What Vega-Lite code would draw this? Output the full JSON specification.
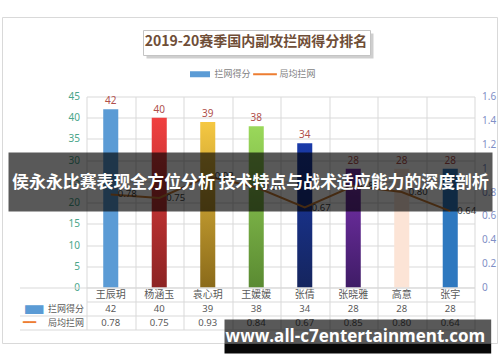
{
  "$schema": "https://vega.github.io/schema/vega-lite/v6.json",
  "background": "white",
  "padding": {"left": 1.5, "top": 16.5, "right": 2, "bottom": 4},
  "title": {"text": "2019-20赛季国内副攻拦网得分排名", "font": "Noto Sans CJK SC", "fontSize": 14, "fontWeight": "bold", "color": "#6f4e37", "anchor": "middle", "offset": -32, "dx": 6, "zindex": 1},
  "datasets": {
    "players": [
      {"name": "王辰玥", "score": 42, "avg": 0.78},
      {"name": "杨涵玉", "score": 40, "avg": 0.75},
      {"name": "袁心玥", "score": 39, "avg": 0.93},
      {"name": "王媛媛", "score": 38, "avg": 0.84},
      {"name": "张倩", "score": 34, "avg": 0.67},
      {"name": "张晓雅", "score": 28, "avg": 0.85},
      {"name": "高意", "score": 28, "avg": 0.80},
      {"name": "张宇", "score": 28, "avg": 0.64}
    ],
    "banner": [{"label": "侯永永比赛表现全方位分析 技术特点与战术适应能力的深度剖析"}],
    "site": [{"label": "www.all-c7entertainment.com"}],
    "series": [{"series": "拦网得分"}, {"series": "局均拦网"}]
  },
  "spacing": 0,
  "bounds": "flush",
  "vconcat": [
    {
      "width": 388,
      "height": 191,
      "layer": [
        {
          "data": {"name": "banner"},
          "layer": [
            {"mark": {"type": "rect", "filled": false, "stroke": "#d9d9d9", "strokeWidth": 1},
              "encoding": {
                "x": {"datum": -0.2165, "type": "quantitative", "scale": {"domain": [0, 1], "nice": false, "zero": false}, "axis": null},
                "x2": {"datum": 1.0593},
                "y": {"datum": 1.4136, "type": "quantitative", "scale": {"domain": [0, 1], "nice": false, "zero": false}, "axis": null},
                "y2": {"datum": -0.2932}
              }},
            {"mark": {"type": "rect", "fill": "#cfcfcf"},
              "encoding": {
                "x": {"datum": 0.1546, "type": "quantitative"},
                "x2": {"datum": 0.7397},
                "y": {"datum": 1.3298, "type": "quantitative"},
                "y2": {"datum": 1.1990}
              }},
            {"mark": {"type": "rect", "fill": "#ffffff", "stroke": "#c4c4c4", "strokeWidth": 1},
              "encoding": {
                "x": {"datum": 0.1469, "type": "quantitative"},
                "x2": {"datum": 0.732},
                "y": {"datum": 1.3455, "type": "quantitative"},
                "y2": {"datum": 1.2147}
              }}
          ]
        },
        {
          "data": {"name": "players"},
          "encoding": {
            "x": {"field": "name", "type": "nominal", "sort": null, "scale": {"paddingInner": 0, "paddingOuter": 0},
              "axis": {"title": null, "labels": false, "ticks": false, "domain": false, "grid": true, "tickBand": "extent", "gridColor": "#d9d9d9"}},
            "y": {"field": "score", "type": "quantitative", "scale": {"domain": [0, 45], "nice": false},
              "axis": {"orient": "left", "title": null, "values": [0, 5, 10, 15, 20, 25, 30, 35, 40, 45], "ticks": false, "domain": false, "grid": true, "gridColor": "#d9d9d9", "labelColor": "#4aa68a", "labelFontSize": 10, "labelPadding": 7, "labelFont": "Noto Sans"}}
          },
          "layer": [
            {"mark": {"type": "bar", "width": {"band": 0.31}},
              "encoding": {"fill": {
                "condition": [
                  {"test": "datum.name == '杨涵玉'", "value": {"gradient": "linear", "x1": 0, "y1": 0, "x2": 0, "y2": 1, "stops": [{"offset": 0, "color": "#f04040"}, {"offset": 1, "color": "#8c2424"}]}},
                  {"test": "datum.name == '袁心玥'", "value": {"gradient": "linear", "x1": 0, "y1": 0, "x2": 0, "y2": 1, "stops": [{"offset": 0, "color": "#f5c842"}, {"offset": 1, "color": "#8a6a1a"}]}},
                  {"test": "datum.name == '王媛媛'", "value": {"gradient": "linear", "x1": 0, "y1": 0, "x2": 0, "y2": 1, "stops": [{"offset": 0, "color": "#9ad85a"}, {"offset": 1, "color": "#5a8a32"}]}},
                  {"test": "datum.name == '张倩'", "value": {"gradient": "linear", "x1": 0, "y1": 0, "x2": 0, "y2": 1, "stops": [{"offset": 0, "color": "#1a3aa8"}, {"offset": 1, "color": "#15255e"}]}},
                  {"test": "datum.name == '张晓雅'", "value": {"gradient": "linear", "x1": 0, "y1": 0, "x2": 0, "y2": 1, "stops": [{"offset": 0, "color": "#7a32b0"}, {"offset": 1, "color": "#3f1c66"}]}}
                ],
                "field": "name", "type": "nominal", "sort": null, "legend": null,
                "scale": {"domain": ["王辰玥", "杨涵玉", "袁心玥", "王媛媛", "张倩", "张晓雅", "高意", "张宇"],
                  "range": ["#5b9bd5", "#d23636", "#d6aa30", "#82bd48", "#1c3a94", "#6a2f9a", "#fce4d6", "#2e78bf"]}}}},
            {"mark": {"type": "text", "dy": -8, "fontSize": 10, "color": "#b0504c", "font": "Noto Sans"},
              "encoding": {"text": {"field": "score"}}}
          ]
        },
        {
          "data": {"name": "players"},
          "encoding": {
            "x": {"field": "name", "type": "nominal", "sort": null, "scale": {"paddingInner": 0, "paddingOuter": 0}, "axis": null},
            "y": {"field": "avg", "type": "quantitative", "scale": {"domain": [0, 1.6], "nice": false},
              "axis": {"orient": "right", "title": null, "values": [0, 0.2, 0.4, 0.6, 0.8, 1, 1.2, 1.4, 1.6], "format": "~g", "ticks": false, "domain": false, "grid": false, "labelColor": "#7f8fc6", "labelFontSize": 10, "labelPadding": 7, "labelFont": "Noto Sans"}}
          },
          "layer": [
            {"mark": {"type": "line", "color": "#c47a35", "strokeWidth": 2}},
            {"mark": {"type": "text", "align": "left", "dx": 7, "fontSize": 9.5, "color": "#3f3f3f", "font": "Noto Sans"},
              "encoding": {"text": {"field": "avg", "format": ".2f"}}}
          ]
        },
        {
          "layer": [
            {"data": {"name": "banner"},
              "mark": {"type": "rect", "fill": "#000000", "opacity": 0.65},
              "encoding": {
                "x": {"datum": -0.201, "type": "quantitative", "scale": {"domain": [0, 1], "nice": false, "zero": false}, "axis": null},
                "x2": {"datum": 1.0464},
                "y": {"datum": 0.7068, "type": "quantitative", "scale": {"domain": [0, 1], "nice": false, "zero": false}, "axis": null},
                "y2": {"datum": 0.3979}
              }},
            {"data": {"name": "banner"},
              "mark": {"type": "text", "color": "white", "fontSize": 16.9, "fontWeight": "bold", "font": "Noto Sans CJK SC", "baseline": "middle", "align": "center"},
              "encoding": {
                "x": {"datum": 0.4227, "type": "quantitative"},
                "y": {"datum": 0.5497, "type": "quantitative"},
                "text": {"field": "label"}
              }},
            {"data": {"name": "series"},
              "mark": {"type": "point", "filled": true, "opacity": 0},
              "encoding": {
                "x": {"datum": 0.5, "type": "quantitative"},
                "y": {"datum": 0.5, "type": "quantitative"},
                "color": {"field": "series", "type": "nominal", "sort": null,
                  "scale": {"domain": ["拦网得分", "局均拦网"], "range": ["#5b9bd5", "#ed7d31"]},
                  "legend": {"title": null, "orient": "none", "direction": "horizontal", "legendX": 101, "legendY": -35, "symbolSize": 625, "symbolOpacity": 1, "symbolStrokeWidth": 0, "labelFontSize": 9, "labelColor": "#7f7f7f", "labelOffset": 2, "columnPadding": 1, "labelFont": "Noto Sans CJK SC"}},
                "shape": {"field": "series", "type": "nominal", "sort": null,
                  "scale": {"domain": ["拦网得分", "局均拦网"], "range": ["M-0.8,-0.24H0.8V0.24H-0.8Z", "M-0.95,-0.08H0.95V0.08H-0.95Z"]},
                  "legend": {"title": null, "orient": "none", "direction": "horizontal", "legendX": 101, "legendY": -35, "symbolSize": 625, "symbolOpacity": 1, "symbolStrokeWidth": 0, "labelFontSize": 9, "labelColor": "#7f7f7f", "labelOffset": 2, "columnPadding": 1, "labelFont": "Noto Sans CJK SC"}}
              }}
          ]
        }
      ],
      "resolve": {"scale": {"x": "independent", "y": "independent"}}
    },
    {
      "width": 388,
      "height": 42,
      "layer": [
        {
          "data": {"name": "players"},
          "encoding": {
            "x": {"field": "name", "type": "nominal", "sort": null, "scale": {"paddingInner": 0, "paddingOuter": 0},
              "axis": {"title": null, "labels": false, "ticks": false, "domain": false, "grid": true, "tickBand": "extent", "gridColor": "#d9d9d9"}}
          },
          "layer": [
            {"mark": {"type": "text", "fontSize": 10, "color": "#595959"},
              "encoding": {
                "y": {"datum": "name", "type": "nominal", "scale": {"type": "band", "domain": ["name", "拦网得分", "局均拦网"], "paddingInner": 0, "paddingOuter": 0},
                  "axis": {"orient": "left", "title": null, "domain": false, "grid": true, "gridColor": "#d9d9d9", "tickBand": "extent", "tickSize": 67, "tickColor": "#d9d9d9",
                    "tickOpacity": {"condition": {"test": "datum.value == 'name'", "value": 0}, "value": 1},
                    "labelExpr": "datum.value == 'name' ? '' : datum.value", "labelPadding": -64, "labelFontSize": 9, "labelColor": "#595959"}},
                "text": {"field": "name"}
              }},
            {"mark": {"type": "text", "fontSize": 9.5, "color": "#595959", "font": "Noto Sans"},
              "encoding": {"y": {"datum": "拦网得分", "type": "nominal"}, "text": {"field": "score"}}},
            {"mark": {"type": "text", "fontSize": 9.5, "color": "#595959", "font": "Noto Sans"},
              "encoding": {"y": {"datum": "局均拦网", "type": "nominal"}, "text": {"field": "avg", "format": ".2f"}}}
          ]
        },
        {
          "data": {"name": "series"},
          "mark": {"type": "text", "text": ""},
          "encoding": {
            "y": {"field": "series", "type": "nominal", "scale": {"type": "band", "domain": ["name", "拦网得分", "局均拦网"], "paddingInner": 0, "paddingOuter": 0},
              "axis": {"orient": "left", "offset": 67, "title": null, "ticks": false, "domain": false, "grid": false,
                "labelExpr": "datum.value == '拦网得分' ? '▬' : (datum.value == '局均拦网' ? '━━' : '')",
                "labelColor": {"condition": {"test": "datum.value == '拦网得分'", "value": "#5b9bd5"}, "value": "#ed7d31"},
                "labelFontSize": {"condition": {"test": "datum.value == '拦网得分'", "value": 24}, "value": 11},
                "labelFont": "DejaVu Sans", "labelAlign": "left", "labelPadding": -3}}
          }
        },
        {
          "data": {"name": "site"},
          "layer": [
            {"mark": {"type": "rect", "fill": "#000000", "opacity": 0.65},
              "encoding": {
                "x": {"datum": 0.3557, "type": "quantitative", "scale": {"domain": [0, 1], "nice": false, "zero": false}, "axis": null},
                "x2": {"datum": 1.043},
                "y": {"datum": 0.238, "type": "quantitative", "scale": {"domain": [0, 1], "nice": false, "zero": false}, "axis": null},
                "y2": {"datum": -0.333}
              }},
            {"mark": {"type": "rect", "fill": "#000000", "opacity": 0.97},
              "encoding": {
                "x": {"datum": 0.3557, "type": "quantitative"},
                "x2": {"datum": 1.043},
                "y": {"datum": -0.333, "type": "quantitative"},
                "y2": {"datum": -0.571}
              }},
            {"mark": {"type": "text", "color": "white", "fontSize": 17, "fontWeight": "bold", "font": "Open Sans", "baseline": "middle", "align": "center"},
              "encoding": {
                "x": {"datum": 0.693, "type": "quantitative"},
                "y": {"datum": -0.19, "type": "quantitative"},
                "text": {"field": "label"}
              }}
          ]
        }
      ],
      "resolve": {"scale": {"x": "independent", "y": "independent"}}
    }
  ],
  "config": {"view": {"stroke": null}, "font": "Noto Sans CJK SC"}
}
